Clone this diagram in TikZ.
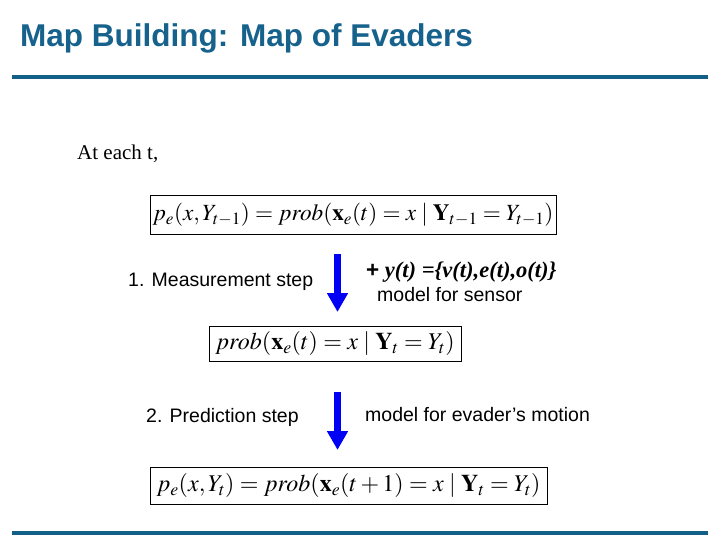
\documentclass[tikz,border=0pt]{standalone}
\usepackage{mathptmx}
\usepackage{fontspec}
\setmainfont{Liberation Serif}
\setsansfont{Liberation Sans}
\usetikzlibrary{arrows.meta}
\definecolor{titleblue}{RGB}{22,98,140}
\definecolor{rulecol}{RGB}{18,96,136}
\definecolor{arrowblue}{RGB}{0,0,245}
\tikzset{
  titletext/.style={anchor=base west,inner sep=0pt,font=\fontsize{31.5}{34}\selectfont\sffamily\bfseries,text=titleblue},
  sanslabel/.style={anchor=base west,inner sep=0pt,font=\fontsize{19.5}{22}\selectfont\sffamily},
  seriflabel/.style={anchor=base west,inner sep=0pt,font=\fontsize{21}{24}\selectfont\rmfamily},
  formbox/.style={draw,line width=1pt,inner sep=0pt,font=\fontsize{24}{28}\selectfont},
  rule/.style={rulecol,line width=4pt},
  bigarrow/.style={arrowblue,line width=7pt,-{Triangle[width=20pt,length=19pt]}}
}
\begin{document}
\begin{tikzpicture}[x=1pt,y=-1pt]
\useasboundingbox (0,0) rectangle (720,540);
\node[titletext] (title) at (20,47) {Map Building: Map of Evaders};
\coordinate (r1a) at (12,77);
\coordinate (r1b) at (708,77);
\draw[rule] (r1a) -- (r1b);
\coordinate (r2a) at (12,533);
\coordinate (r2b) at (708,533);
\draw[rule] (r2a) -- (r2b);

\node[seriflabel] (each) at (77,160) {At each t,};

\node[formbox,minimum width=406pt,minimum height=38pt,font=\fontsize{23.2}{28}\selectfont] (f1) at (353,215)
  {$p_e(x,Y_{t-1}) = prob(\mathbf{x}_e(t) = x \mid \mathbf{Y}_{t-1} = Y_{t-1})$};
\node[formbox,minimum width=252pt,minimum height=35pt] (f2) at (335,343.5)
  {$prob(\mathbf{x}_e(t) = x \mid \mathbf{Y}_t = Y_t)$};
\node[formbox,minimum width=397pt,minimum height=37pt] (f3) at (348.5,485.5)
  {$p_e(x,Y_t) = prob(\mathbf{x}_e(t+1) = x \mid \mathbf{Y}_t = Y_t)$};

\node[sanslabel] (meas) at (128,286) {1. Measurement step};
\node[sanslabel] (pred) at (146,422) {2. Prediction step};

\node[anchor=base west,inner sep=0pt,font=\fontsize{22.5}{26}\selectfont] (yt) at (366,277)
  {{\sffamily\bfseries +} {\rmfamily\bfseries\itshape y(t) =\{v(t),e(t),o(t)\}}};
\node[sanslabel] (sensor) at (377,301) {model for sensor};
\node[sanslabel] (motion) at (365,421) {model for evader’s motion};

\coordinate (a1s) at (337.5,254);
\coordinate (a1e) at (337.5,312);
\draw[bigarrow] (a1s) -- (a1e);
\coordinate (a2s) at (337.5,392);
\coordinate (a2e) at (337.5,450);
\draw[bigarrow] (a2s) -- (a2e);
\end{tikzpicture}
\end{document}
